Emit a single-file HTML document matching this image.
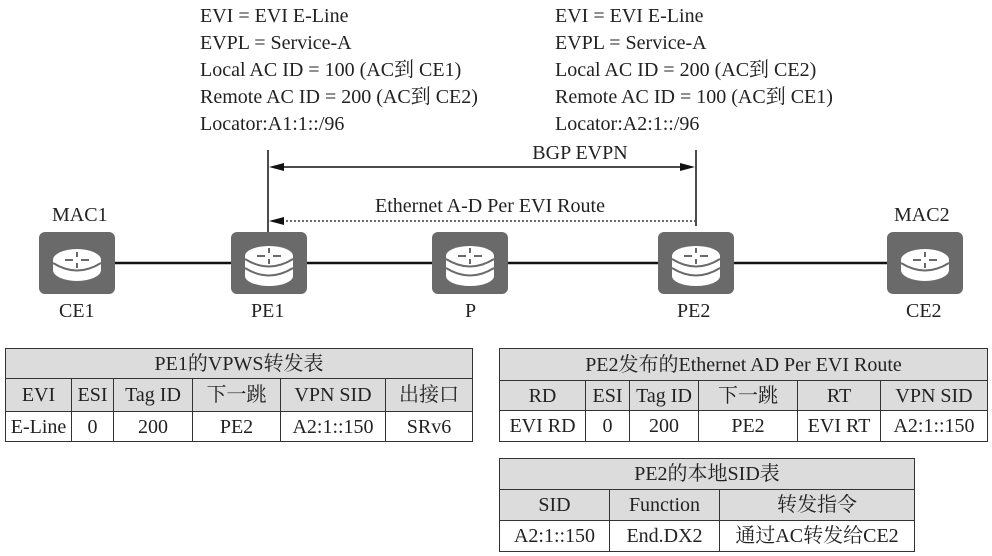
<!DOCTYPE html>
<html><head><meta charset="utf-8"><style>
body{margin:0;background:#fff;width:992px;height:556px;overflow:hidden;font-family:"Liberation Serif","Noto Serif CJK SC",serif;color:#222}
.t{position:absolute;font-size:20px;line-height:27px;white-space:nowrap}
table{position:absolute;border-collapse:collapse;font-size:20px;table-layout:fixed}
td{border:1.5px solid #333;text-align:center;padding:0;white-space:nowrap;overflow:hidden;line-height:22px}
.g td{background:#dcdcdc}
</style></head><body>
<div class="t" style="left:200px;top:3px">EVI = EVI E-Line<br>EVPL = Service-A<br>Local AC ID = 100 (AC到 CE1)<br>Remote AC ID = 200 (AC到 CE2)<br>Locator:A1:1::/96</div>
<div class="t" style="left:555px;top:3px">EVI = EVI E-Line<br>EVPL = Service-A<br>Local AC ID = 200 (AC到 CE2)<br>Remote AC ID = 100 (AC到 CE1)<br>Locator:A2:1::/96</div>
<svg width="992" height="556" style="position:absolute;left:0;top:0">
<defs>
<g id="r">
<rect x="0" y="0" width="76" height="62" rx="6" fill="#6a6a6a"/>
<ellipse cx="38" cy="38" rx="24" ry="11" fill="#fff"/>
<rect x="14" y="28" width="48" height="10" fill="#fff"/>
<ellipse cx="38" cy="28" rx="24" ry="11" fill="#fff"/>
<path d="M14 31 Q38 46 62 31" stroke="#6a6a6a" stroke-width="2" fill="none"/>
<path d="M26 28h8M42 28h8M38 20v5M38 31v5" stroke="#6a6a6a" stroke-width="2"/>
</g>
<g id="r2">
<rect x="0" y="0" width="76" height="62" rx="6" fill="#6a6a6a"/>
<ellipse cx="38" cy="44" rx="24" ry="10" fill="#fff"/>
<rect x="14" y="24" width="48" height="20" fill="#fff"/>
<ellipse cx="38" cy="24" rx="24" ry="10" fill="#fff"/>
<path d="M14 27 Q38 42 62 27" stroke="#6a6a6a" stroke-width="2" fill="none"/>
<path d="M14 36 Q38 51 62 36" stroke="#6a6a6a" stroke-width="2" fill="none"/>
<path d="M26 24h8M42 24h8M38 16v5M38 27v5" stroke="#6a6a6a" stroke-width="2"/>
</g>
</defs>
<line x1="77" y1="263" x2="925" y2="263" stroke="#111" stroke-width="2.5"/>
<line x1="268" y1="150" x2="268" y2="232" stroke="#111" stroke-width="1.5"/>
<line x1="696" y1="150" x2="696" y2="226" stroke="#111" stroke-width="1.5"/>
<line x1="280" y1="167" x2="684" y2="167" stroke="#111" stroke-width="1.5"/>
<polygon points="269,167 284,163 284,171" fill="#111"/>
<polygon points="695,167 680,163 680,171" fill="#111"/>
<line x1="282" y1="221" x2="695" y2="221" stroke="#111" stroke-width="1.3" stroke-dasharray="2,2"/>
<polygon points="269,221 284,217 284,225" fill="#111"/>
<use href="#r" x="39" y="232"/>
<use href="#r2" x="231" y="232"/>
<use href="#r2" x="432" y="232"/>
<use href="#r2" x="658" y="232"/>
<use href="#r" x="887" y="232"/>
</svg>
<div class="t" style="left:230px;top:140px;width:700px;text-align:center">BGP EVPN</div>
<div class="t" style="left:230px;top:193px;width:520px;text-align:center">Ethernet A-D Per EVI Route</div>
<div class="t" style="left:52px;top:202px">MAC1</div>
<div class="t" style="left:894px;top:202px">MAC2</div>
<div class="t" style="left:59px;top:298px">CE1</div>
<div class="t" style="left:251px;top:298px">PE1</div>
<div class="t" style="left:465px;top:298px">P</div>
<div class="t" style="left:677px;top:298px">PE2</div>
<div class="t" style="left:906px;top:298px">CE2</div>
<table style="left:5px;top:348px;width:468px">
<col style="width:66px"><col style="width:42px"><col style="width:79px"><col style="width:88px"><col style="width:105px"><col>
<tr class="g" style="height:30px"><td colspan="6">PE1的VPWS转发表</td></tr>
<tr class="g" style="height:33px"><td>EVI</td><td>ESI</td><td>Tag ID</td><td>下一跳</td><td>VPN SID</td><td>出接口</td></tr>
<tr style="height:30px"><td>E-Line</td><td>0</td><td>200</td><td>PE2</td><td>A2:1::150</td><td>SRv6</td></tr>
</table>
<table style="left:499px;top:348px;width:489px">
<col style="width:86px"><col style="width:44px"><col style="width:69px"><col style="width:99px"><col style="width:83px"><col>
<tr class="g" style="height:32px"><td colspan="6">PE2发布的Ethernet AD Per EVI Route</td></tr>
<tr class="g" style="height:30px"><td>RD</td><td>ESI</td><td>Tag ID</td><td>下一跳</td><td>RT</td><td>VPN SID</td></tr>
<tr style="height:31px"><td>EVI RD</td><td>0</td><td>200</td><td>PE2</td><td>EVI RT</td><td>A2:1::150</td></tr>
</table>
<table style="left:499px;top:458px;width:416px">
<col style="width:110px"><col style="width:110px"><col>
<tr class="g" style="height:31px"><td colspan="3">PE2的本地SID表</td></tr>
<tr class="g" style="height:31px"><td>SID</td><td>Function</td><td>转发指令</td></tr>
<tr style="height:31px"><td>A2:1::150</td><td>End.DX2</td><td>通过AC转发给CE2</td></tr>
</table>
</body></html>
